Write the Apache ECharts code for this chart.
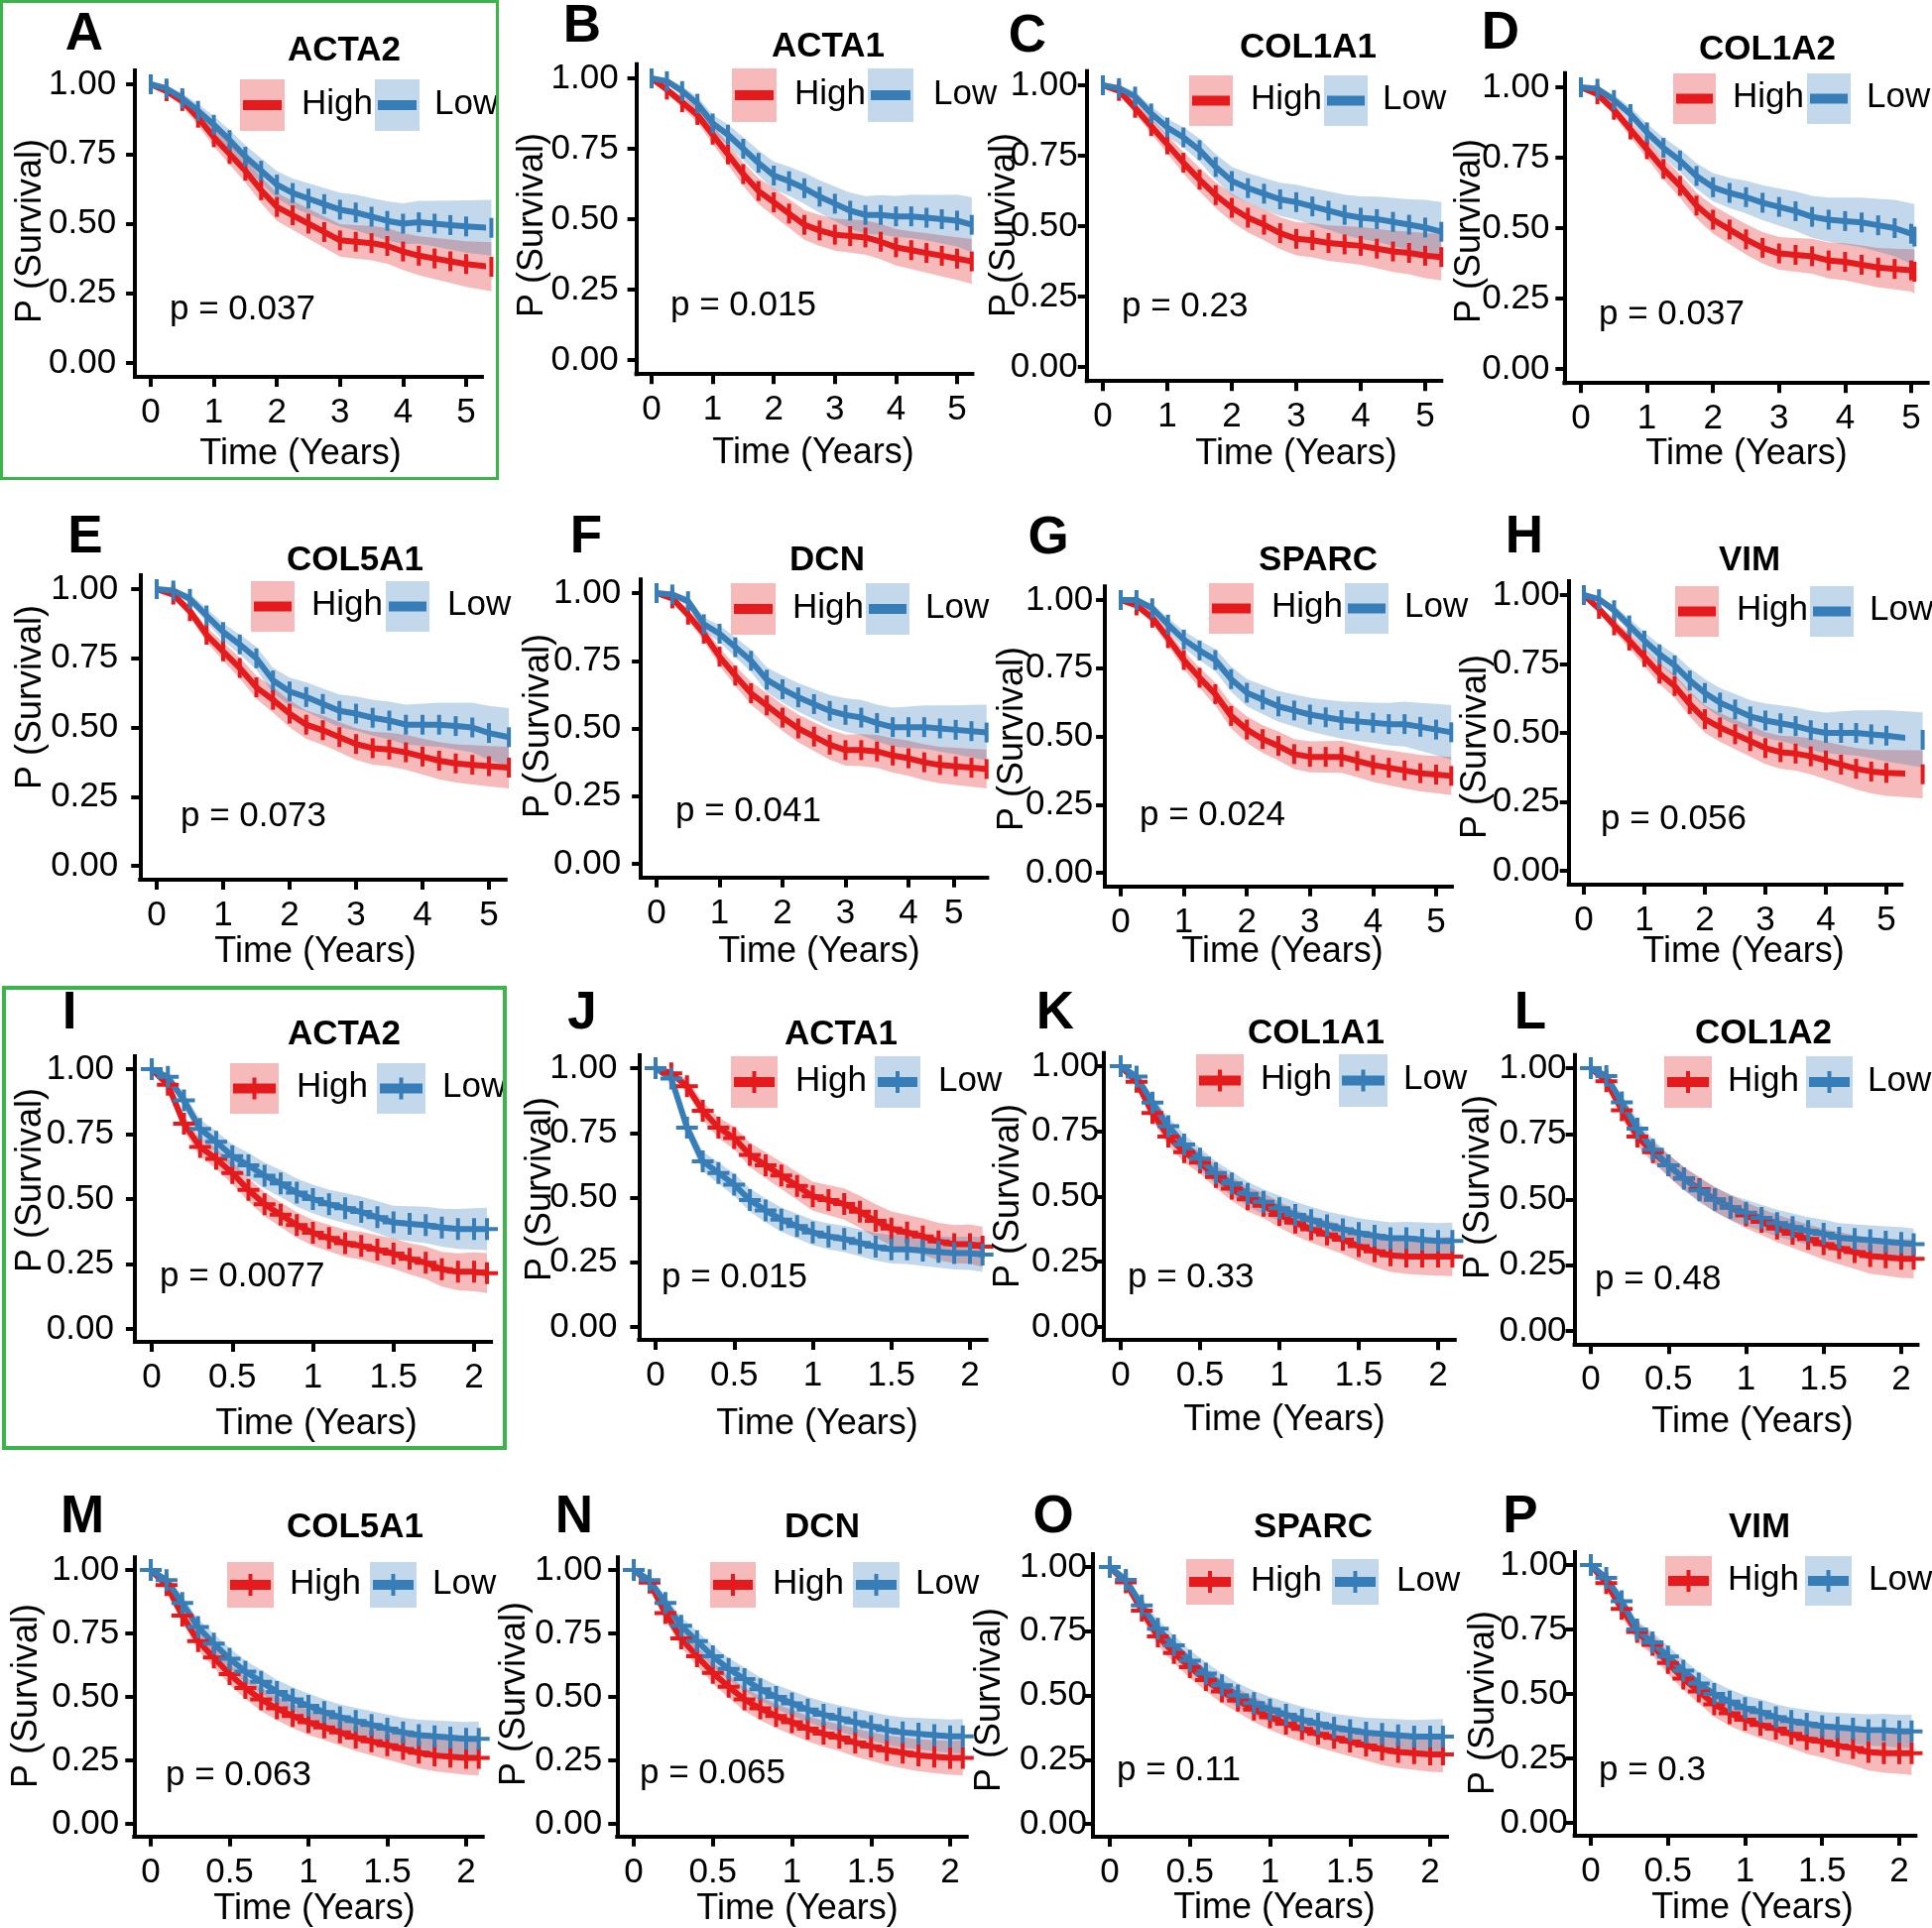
<!DOCTYPE html>
<html><head><meta charset="utf-8">
<script src="https://cdn.jsdelivr.net/npm/echarts@6/dist/echarts.min.js"></script>
<style>html,body{margin:0;padding:0;background:#fff}#c{width:1948px;height:1944px}</style>
</head><body><div id="c"></div>
<script>
// ---------------- DATA ----------------
const panelLetters = ['A','B','C','D','E','F','G','H','I','J','K','L','M','N','O','P'];
const geneNames = ['ACTA2','ACTA1','COL1A1','COL1A2','COL5A1','DCN','SPARC','VIM','ACTA2','ACTA1','COL1A1','COL1A2','COL5A1','DCN','SPARC','VIM'];
const pValues = ['0.037','0.015','0.23','0.037','0.073','0.041','0.024','0.056','0.0077','0.015','0.33','0.48','0.063','0.065','0.11','0.3'];
const groupNames = ['High','Low'];
const timesTop = [0,0.25,0.5,0.75,1,1.25,1.5,1.75,2,2.25,2.5,2.75,3,3.25,3.5,3.75,4,4.25,4.5,4.75,5];
const timesBottom = [0,0.1,0.2,0.3,0.4,0.5,0.6,0.7,0.8,0.9,1,1.1,1.2,1.3,1.4,1.5,1.6,1.7,1.8,1.9,2];
const endTime = [5.4,5.24,5.25,5.05,5.3,5.24,5.24,5.6,2.08,2.08,2.09,2.08,2.08,2.08,2.08,2.08];
const xTickTop = [0,1,2,3,4,5];
const xTickBottom = [0,0.5,1,1.5,2];
const xTickF = [0,1,2,3,4,4.72];
const xTickLabelF = ['0','1','2','3','4','5'];
const yTicks = [0,0.25,0.5,0.75,1];

// survival estimates (High / Low) and CI half-widths
const A_high = [1.00,0.975,0.94,0.88,0.81,0.75,0.69,0.62,0.56,0.53,0.50,0.47,0.44,0.435,0.43,0.42,0.40,0.385,0.375,0.365,0.355,0.345];
const A_low = [1.00,0.985,0.95,0.905,0.855,0.80,0.74,0.69,0.64,0.61,0.59,0.57,0.55,0.54,0.525,0.51,0.50,0.505,0.50,0.495,0.49,0.485];
const A_highCI = [0,.012,.02,.027,.033,.038,.042,.046,.05,.052,.054,.056,.058,.06,.062,.064,.066,.07,.074,.078,.082,.088];
const A_lowCI = [0,.01,.018,.025,.031,.036,.041,.045,.049,.052,.055,.058,.061,.064,.067,.07,.073,.077,.082,.088,.094,.10];

const B_high = [1.00,0.96,0.915,0.87,0.80,0.73,0.66,0.60,0.56,0.52,0.48,0.46,0.445,0.44,0.435,0.42,0.40,0.39,0.38,0.37,0.36,0.35];
const B_low = [1.00,0.99,0.955,0.91,0.84,0.80,0.75,0.70,0.655,0.635,0.61,0.58,0.555,0.53,0.515,0.515,0.51,0.51,0.505,0.50,0.495,0.48];
const B_highCI = [0,.012,.02,.027,.033,.038,.042,.046,.049,.051,.053,.055,.057,.059,.061,.063,.065,.067,.07,.073,.076,.08];
const B_lowCI = [0,.01,.018,.025,.031,.036,.041,.045,.049,.052,.055,.058,.061,.064,.067,.07,.073,.077,.081,.086,.092,.098];

const C_high = [1.00,0.98,0.92,0.855,0.79,0.725,0.665,0.61,0.565,0.53,0.505,0.475,0.455,0.45,0.44,0.435,0.43,0.42,0.41,0.405,0.395,0.39];
const C_low = [1.00,0.99,0.96,0.90,0.85,0.815,0.77,0.71,0.66,0.635,0.615,0.595,0.585,0.57,0.555,0.54,0.53,0.525,0.515,0.505,0.495,0.48];
const C_highCI = [0,.012,.02,.027,.033,.038,.042,.046,.05,.053,.055,.057,.059,.061,.063,.065,.067,.07,.073,.076,.08,.083];
const C_lowCI = [0,.01,.018,.025,.031,.036,.041,.046,.05,.053,.056,.059,.062,.065,.068,.072,.076,.08,.085,.09,.098,.105];

const D_high = [1.00,0.975,0.92,0.85,0.78,0.71,0.65,0.58,0.53,0.495,0.46,0.43,0.41,0.405,0.40,0.385,0.38,0.37,0.36,0.355,0.35,0.345];
const D_low = [1.00,0.995,0.955,0.905,0.84,0.785,0.74,0.685,0.645,0.625,0.61,0.59,0.575,0.56,0.54,0.53,0.525,0.52,0.51,0.50,0.48,0.47];
const D_highCI = [0,.012,.02,.027,.033,.038,.042,.046,.05,.052,.054,.056,.058,.06,.062,.064,.066,.068,.07,.072,.075,.078];
const D_lowCI = [0,.01,.018,.025,.031,.036,.041,.046,.05,.054,.058,.062,.066,.07,.074,.078,.083,.088,.094,.10,.108,.115];

const E_high = [1.00,0.98,0.92,0.835,0.775,0.715,0.645,0.60,0.55,0.51,0.49,0.465,0.44,0.425,0.42,0.41,0.395,0.38,0.37,0.365,0.36,0.355];
const E_low = [1.00,0.995,0.965,0.905,0.845,0.80,0.75,0.67,0.63,0.61,0.585,0.56,0.55,0.535,0.525,0.51,0.51,0.51,0.505,0.50,0.48,0.465];
const E_highCI = [0,.012,.02,.027,.033,.038,.042,.046,.049,.051,.053,.055,.057,.059,.061,.063,.065,.067,.069,.071,.073,.075];
const E_lowCI = [0,.01,.018,.025,.031,.036,.041,.046,.05,.053,.056,.059,.062,.065,.068,.072,.076,.08,.085,.09,.098,.105];

const F_high = [1.00,0.98,0.92,0.85,0.765,0.695,0.63,0.585,0.54,0.50,0.47,0.44,0.42,0.42,0.415,0.40,0.39,0.375,0.365,0.36,0.355,0.35];
const F_low = [1.00,0.995,0.97,0.885,0.85,0.80,0.75,0.68,0.645,0.615,0.59,0.565,0.55,0.54,0.52,0.505,0.505,0.505,0.50,0.495,0.49,0.485];
const F_highCI = [0,.012,.02,.027,.033,.038,.042,.046,.049,.051,.053,.055,.057,.059,.061,.063,.065,.066,.067,.069,.07,.072];
const F_lowCI = [0,.01,.018,.025,.031,.036,.041,.046,.05,.053,.056,.059,.062,.065,.068,.072,.076,.08,.085,.09,.097,.103];

const G_high = [1.00,0.98,0.935,0.86,0.78,0.715,0.655,0.575,0.525,0.49,0.465,0.435,0.425,0.425,0.425,0.41,0.395,0.385,0.375,0.365,0.36,0.355];
const G_low = [1.00,1.00,0.97,0.91,0.855,0.815,0.78,0.71,0.66,0.635,0.61,0.595,0.58,0.57,0.56,0.555,0.55,0.545,0.545,0.535,0.525,0.515];
const G_highCI = [0,.012,.02,.027,.033,.038,.042,.046,.049,.051,.053,.055,.057,.058,.059,.06,.062,.064,.066,.067,.068,.07];
const G_lowCI = [0,.01,.018,.025,.031,.036,.041,.046,.05,.053,.056,.059,.062,.065,.068,.071,.074,.078,.082,.088,.094,.10];

const H_high = [1.00,0.95,0.89,0.835,0.775,0.715,0.67,0.605,0.55,0.52,0.495,0.47,0.445,0.43,0.425,0.415,0.40,0.385,0.37,0.36,0.355,0.35];
const H_low = [1.00,0.985,0.945,0.89,0.835,0.785,0.745,0.69,0.645,0.61,0.585,0.56,0.545,0.535,0.525,0.51,0.50,0.50,0.50,0.495,0.49,0.475];
const H_highCI = [0,.012,.02,.027,.033,.038,.042,.046,.05,.052,.054,.056,.058,.06,.062,.065,.068,.071,.075,.079,.083,.087];
const H_lowCI = [0,.01,.018,.025,.031,.036,.041,.046,.05,.053,.056,.059,.062,.065,.068,.071,.074,.078,.082,.087,.093,.10];

const I_high = [1.00,0.94,0.79,0.70,0.655,0.60,0.535,0.48,0.44,0.40,0.37,0.35,0.33,0.32,0.305,0.29,0.27,0.255,0.23,0.22,0.22,0.215];
const I_low = [1.00,0.97,0.88,0.77,0.72,0.665,0.63,0.59,0.56,0.525,0.50,0.48,0.465,0.45,0.43,0.41,0.405,0.40,0.39,0.385,0.385,0.385];
const I_highCI = [0,.015,.03,.036,.04,.043,.045,.047,.048,.049,.05,.051,.052,.054,.056,.058,.06,.063,.067,.071,.075,.077];
const I_lowCI = [0,.012,.028,.036,.041,.045,.048,.05,.052,.054,.055,.056,.058,.06,.062,.064,.067,.07,.073,.077,.08,.082];

const J_high = [1.00,0.98,0.93,0.835,0.77,0.73,0.665,0.625,0.585,0.545,0.505,0.49,0.475,0.445,0.41,0.38,0.365,0.35,0.33,0.32,0.32,0.31];
const J_low = [1.00,0.96,0.77,0.64,0.595,0.55,0.49,0.45,0.415,0.39,0.365,0.35,0.34,0.325,0.31,0.30,0.30,0.295,0.29,0.285,0.285,0.28];
const J_highCI = [0,.012,.026,.035,.04,.044,.047,.05,.052,.054,.056,.058,.06,.062,.064,.066,.068,.07,.072,.074,.076,.078];
const J_lowCI = [0,.015,.032,.038,.041,.043,.045,.046,.047,.048,.049,.05,.051,.052,.053,.055,.057,.059,.061,.063,.065,.067];

const K_high = [1.00,0.94,0.82,0.73,0.67,0.63,0.575,0.53,0.49,0.465,0.43,0.40,0.375,0.355,0.335,0.31,0.29,0.275,0.27,0.27,0.27,0.27];
const K_low = [1.00,0.96,0.86,0.77,0.70,0.645,0.59,0.55,0.51,0.48,0.455,0.43,0.41,0.39,0.375,0.36,0.35,0.34,0.34,0.335,0.33,0.33];
const K_highCI = [0,.014,.028,.035,.039,.042,.044,.046,.047,.048,.049,.05,.052,.054,.056,.058,.061,.064,.067,.07,.073,.075];
const K_lowCI = [0,.012,.026,.034,.039,.042,.044,.046,.047,.048,.049,.05,.051,.053,.055,.057,.059,.061,.063,.066,.068,.07];

const L_high = [1.00,0.95,0.84,0.74,0.68,0.63,0.58,0.54,0.50,0.47,0.44,0.415,0.39,0.37,0.35,0.33,0.315,0.30,0.285,0.28,0.275,0.275];
const L_low = [1.00,0.97,0.87,0.77,0.69,0.63,0.58,0.535,0.50,0.47,0.45,0.43,0.41,0.395,0.38,0.37,0.355,0.35,0.345,0.34,0.335,0.33];
const L_highCI = [0,.014,.028,.035,.039,.042,.044,.046,.047,.048,.049,.05,.052,.054,.056,.058,.061,.064,.067,.07,.073,.075];
const L_lowCI = [0,.012,.026,.034,.039,.042,.044,.046,.047,.048,.049,.05,.051,.052,.053,.054,.055,.056,.057,.058,.06,.06];

const M_high = [1.00,0.94,0.82,0.72,0.655,0.59,0.535,0.49,0.455,0.425,0.40,0.38,0.36,0.34,0.325,0.31,0.295,0.28,0.27,0.265,0.26,0.26];
const M_low = [1.00,0.96,0.87,0.775,0.71,0.65,0.60,0.56,0.52,0.49,0.465,0.44,0.42,0.405,0.39,0.375,0.36,0.35,0.345,0.34,0.335,0.335];
const M_highCI = [0,.014,.028,.035,.039,.042,.044,.046,.047,.048,.049,.05,.051,.053,.055,.057,.059,.061,.063,.065,.067,.069];
const M_lowCI = [0,.012,.026,.034,.039,.042,.044,.046,.047,.048,.049,.05,.051,.052,.054,.056,.058,.06,.062,.064,.066,.068];

const N_high = [1.00,0.95,0.83,0.73,0.66,0.595,0.54,0.49,0.455,0.425,0.40,0.375,0.355,0.34,0.32,0.305,0.29,0.28,0.27,0.265,0.26,0.26];
const N_low = [1.00,0.96,0.87,0.78,0.72,0.66,0.61,0.57,0.53,0.50,0.475,0.45,0.43,0.415,0.40,0.385,0.37,0.36,0.355,0.35,0.345,0.345];
const N_highCI = [0,.014,.028,.035,.039,.042,.044,.046,.047,.048,.049,.05,.051,.053,.055,.057,.059,.061,.063,.065,.067,.069];
const N_lowCI = [0,.012,.026,.034,.039,.042,.044,.046,.047,.048,.049,.05,.051,.052,.054,.056,.058,.06,.062,.064,.066,.068];

const O_high = [1.00,0.94,0.83,0.73,0.665,0.61,0.56,0.515,0.48,0.445,0.415,0.39,0.37,0.35,0.335,0.32,0.305,0.29,0.28,0.275,0.27,0.27];
const O_low = [1.00,0.95,0.85,0.76,0.695,0.635,0.585,0.54,0.50,0.47,0.445,0.425,0.405,0.39,0.375,0.365,0.355,0.35,0.345,0.34,0.34,0.34];
const O_highCI = [0,.014,.028,.035,.039,.042,.044,.046,.047,.048,.049,.05,.051,.053,.055,.057,.059,.061,.063,.065,.067,.069];
const O_lowCI = [0,.012,.026,.034,.039,.042,.044,.046,.047,.048,.049,.05,.051,.052,.054,.056,.058,.06,.062,.064,.066,.068];

const P_high = [1.00,0.93,0.83,0.74,0.69,0.62,0.56,0.51,0.46,0.425,0.40,0.38,0.365,0.345,0.325,0.315,0.30,0.29,0.275,0.27,0.27,0.27];
const P_low = [1.00,0.95,0.86,0.75,0.70,0.645,0.59,0.54,0.50,0.47,0.445,0.43,0.41,0.395,0.385,0.375,0.37,0.365,0.36,0.36,0.355,0.355];
const P_highCI = [0,.016,.03,.037,.04,.043,.045,.047,.048,.049,.05,.052,.054,.056,.058,.061,.064,.068,.072,.076,.08,.084];
const P_lowCI = [0,.012,.026,.034,.039,.042,.044,.046,.047,.048,.049,.05,.051,.052,.053,.055,.057,.059,.061,.063,.064,.065];

// ---------------- LAYOUT (pixels) ----------------
// [x of t=0, x of last tick (5 or 2 years), y of 1.00, y of 0.00]
const plotFrames = [
 [152,470,85,366],[657,965,79,363],[1112,1437,86,370],[1594,1927,88,372],
 [158,493,594,873],[662,979.5,598,871],[1130,1448,605,880],[1597,1902,600,878],
 [153,478,1078,1340],[661,978,1077,1338],[1130,1450,1075,1338],[1604,1917,1077,1342],
 [152,470,1583,1839],[639,958,1583,1839],[1119,1442,1580,1839],[1604,1915,1578,1838]];
const yLabelMargin = [19,18,9,15,22,20,12,9,21,22,5,8,15,15,6,7];
const letterPos = [[85,35],[587,27],[1036,37],[1513,34],[86,542],[591,542],[1057,543],[1537,542],[70,1022],[587,1022],[1064,1022],[1543,1022],[83,1530],[579,1530],[1062,1530],[1533,1530]];
const titlePos = [[347,51],[835,47],[1319,48],[1782,50],[358,565],[834,565],[1329,565],[1764,565],[347,1043],[848,1043],[1327,1042],[1778,1042],[358,1540],[829,1540],[1324,1540],[1774,1540]];
const pPos = [[171,312],[676,308],[1131,309],[1612,317],[182,823],[681,818],[1149,822],[1614,826],[161,1287],[667,1288],[1137,1288],[1608,1290],[167,1790],[645,1788],[1126,1785],[1612,1785]];
const yLabPos = [[31,233],[537,227],[1013,227],[1482,233],[31,703],[543,732],[1021,745],[1488,753],[31,1190],[545,1199],[1017,1206],[1491,1197],[27,1710],[519,1708],[998,1714],[1496,1717]];
const xLabPos = [[303,458],[820,457],[1307,458],[1761,458],[318,960],[826,960],[1293,960],[1758,960],[319,1436],[824,1436],[1295,1432],[1767,1434],[317,1925],[804,1925],[1285,1924],[1767,1924]];
// [redX1, redX2, top, bottom, highTextX, blueX1, blueX2, lowTextX]
const legendPos = [
 [242,287,80,132,304,378,423,438],[738,783,69,123,801,875,921,941],[1199,1243,76,127,1261,1335,1379,1394],[1687,1730,74,125,1747,1822,1866,1882],
 [253,297,586,637,314,389,433,451],[737,782,588,640,799,873,917,933],[1219,1264,588,639,1282,1356,1400,1416],[1689,1733,591,642,1751,1825,1869,1885],
 [232,281,1072,1123,299,380,429,446],[737,784,1065,1117,802,882,928,946],[1206,1254,1063,1116,1271,1350,1399,1415],[1678,1726,1065,1117,1742,1821,1868,1883],
 [229,276,1575,1621,292,373,420,436],[716,762,1575,1621,779,860,907,923],[1196,1244,1572,1618,1261,1343,1390,1408],[1679,1726,1569,1619,1742,1820,1867,1884]];

// ---------------- BUILD ----------------
const FONT = '"Liberation Sans", Arial, Helvetica, sans-serif';
const RED = '#E41A1C', BLUE = '#377EB8';
const RED_BAND = 'rgba(228,26,28,0.3)', BLUE_BAND = 'rgba(55,126,184,0.3)';
const curves = {
 A:[A_high,A_low,A_highCI,A_lowCI], B:[B_high,B_low,B_highCI,B_lowCI], C:[C_high,C_low,C_highCI,C_lowCI], D:[D_high,D_low,D_highCI,D_lowCI],
 E:[E_high,E_low,E_highCI,E_lowCI], F:[F_high,F_low,F_highCI,F_lowCI], G:[G_high,G_low,G_highCI,G_lowCI], H:[H_high,H_low,H_highCI,H_lowCI],
 I:[I_high,I_low,I_highCI,I_lowCI], J:[J_high,J_low,J_highCI,J_lowCI], K:[K_high,K_low,K_highCI,K_lowCI], L:[L_high,L_low,L_highCI,L_lowCI],
 M:[M_high,M_low,M_highCI,M_lowCI], N:[N_high,N_low,N_highCI,N_lowCI], O:[O_high,O_low,O_highCI,O_lowCI], P:[P_high,P_low,P_highCI,P_lowCI]};

const TICK_SYM = 'path://M0,0H1V10H0Z';
const PLUS_SYM = 'path://M9,0H13V22H9ZM0,9H22V13H0Z';

const grids = [], xAxes = [], yAxes = [], series = [], graphics = [];

panelLetters.forEach((L, i) => {
  const top = i < 8;
  const [x0, xe, y1, y0] = plotFrames[i];
  const tSpan = top ? 5 : 2;
  const ppu = (xe - x0) / tSpan;
  const xmin = top ? -0.25 : -0.105, xmax = top ? 5.25 : 2.105;
  const ph = y0 - y1;
  grids.push({left: x0 + xmin * ppu, width: (xmax - xmin) * ppu, top: y1 - 0.05 * ph, height: 1.1 * ph,
    containLabel: false, outerBoundsMode: 'none'});
  const xt = L === 'F' ? xTickF : (top ? xTickTop : xTickBottom);
  xAxes.push({type: 'value', gridIndex: i, min: xmin, max: xmax,
    axisLine: {show: true, onZero: false, lineStyle: {color: '#000', width: 4, cap: 'square'}},
    axisTick: {show: true, inside: false, length: 10, lineStyle: {color: '#000', width: 4}, customValues: xt},
    axisLabel: {show: true, margin: 19, fontSize: 35, color: '#000', fontFamily: FONT, customValues: xt, hideOverlap: false,
      formatter: (v) => L === 'F' ? xTickLabelF[xTickF.indexOf(v)] : String(v)},
    splitLine: {show: false}});
  yAxes.push({type: 'value', gridIndex: i, min: -0.05, max: 1.05,
    axisLine: {show: true, onZero: false, lineStyle: {color: '#000', width: 4, cap: 'square'}},
    axisTick: {show: true, inside: false, length: 9, lineStyle: {color: '#000', width: 4}, customValues: yTicks},
    axisLabel: {show: true, margin: yLabelMargin[i], fontSize: 35, color: '#000', fontFamily: FONT, customValues: yTicks, hideOverlap: false,
      padding: [6, 0, 0, 0], formatter: (v) => v.toFixed(2)},
    splitLine: {show: false}});

  const times = (top ? timesTop : timesBottom).concat([endTime[i]]);
  const [hi, lo, hiCI, loCI] = curves[L];
  const groups = [[hi, hiCI, RED, RED_BAND, groupNames[0]], [lo, loCI, BLUE, BLUE_BAND, groupNames[1]]];
  // confidence bands
  groups.forEach(([v, w, col, band, name]) => {
    const lower = v.map((s, k) => Math.max(0, s - w[k]));
    const upper = v.map((s, k) => Math.min(1, s + w[k]));
    series.push({type: 'custom', name: name + ' CI', xAxisIndex: i, yAxisIndex: i, z: 1, silent: true,
      data: times.map((t, k) => [t, lower[k], upper[k]]),
      encode: {x: 0, y: [1, 2]},
      renderItem: (params, api) => {
        if (params.dataIndex !== 0) return null;
        const pts = [];
        for (let k = 0; k < times.length; k++) pts.push(api.coord([times[k], upper[k]]));
        for (let k = times.length - 1; k >= 0; k--) pts.push(api.coord([times[k], lower[k]]));
        return {type: 'polygon', shape: {points: pts}, style: {fill: band}};
      }});
  });
  // survival curves
  groups.forEach(([v, w, col, band, name]) => {
    series.push({type: 'line', name: name, xAxisIndex: i, yAxisIndex: i, z: 3, clip: false, silent: true,
      data: times.map((t, k) => [t, v[k]]),
      lineStyle: {color: col, width: 6}, itemStyle: {color: col, borderWidth: 0},
      symbol: top ? TICK_SYM : PLUS_SYM, symbolSize: top ? [4, 20] : [22, 22], symbolKeepAspect: false,
      showSymbol: true, showAllSymbol: true, animation: false});
  });

  // texts
  graphics.push({type: 'text', x: letterPos[i][0], y: letterPos[i][1], z: 10,
    style: {text: L, fontSize: 53, fontWeight: 'bold', fontFamily: FONT, fill: '#000', align: 'center', verticalAlign: 'middle'}});
  graphics.push({type: 'text', x: titlePos[i][0], y: titlePos[i][1], z: 10,
    style: {text: geneNames[i], fontSize: 35, fontWeight: 'bold', fontFamily: FONT, fill: '#000', align: 'center', verticalAlign: 'middle'}});
  graphics.push({type: 'text', x: pPos[i][0], y: pPos[i][1], z: 10,
    style: {text: 'p = ' + pValues[i], fontSize: 35, fontFamily: FONT, fill: '#000', align: 'left', verticalAlign: 'middle'}});
  graphics.push({type: 'text', x: yLabPos[i][0], y: yLabPos[i][1], rotation: Math.PI / 2, z: 10,
    style: {text: 'P (Survival)', fontSize: 36, fontFamily: FONT, fill: '#000', align: 'center', verticalAlign: 'middle'}});
  graphics.push({type: 'text', x: xLabPos[i][0], y: xLabPos[i][1], z: 10,
    style: {text: 'Time (Years)', fontSize: 36, fontFamily: FONT, fill: '#000', align: 'center', verticalAlign: 'middle'}});
  // legend
  const [rx1, rx2, lt, lb, hx, bx1, bx2, lx] = legendPos[i];
  const my = (lt + lb) / 2;
  [[rx1, rx2, RED, RED_BAND, hx, groupNames[0]], [bx1, bx2, BLUE, BLUE_BAND, lx, groupNames[1]]].forEach(([a, b, col, band, tx, name]) => {
    graphics.push({type: 'rect', z: 10, shape: {x: a, y: lt, width: b - a, height: lb - lt}, style: {fill: band}});
    graphics.push({type: 'line', z: 11, shape: {x1: a + 3, y1: my, x2: b - 3, y2: my}, style: {stroke: col, lineWidth: 10}});
    if (!top) graphics.push({type: 'line', z: 11, shape: {x1: (a + b) / 2, y1: my - 11, x2: (a + b) / 2, y2: my + 11}, style: {stroke: col, lineWidth: 4}});
    graphics.push({type: 'text', x: tx, y: my - 1, z: 10,
      style: {text: name, fontSize: 35, fontFamily: FONT, fill: '#000', align: 'left', verticalAlign: 'middle'}});
  });
});

// green highlight frames
graphics.push({type: 'rect', z: 20, shape: {x: 1.5, y: 1.5, width: 500, height: 481}, style: {fill: 'none', stroke: '#3BB44A', lineWidth: 3}});
graphics.push({type: 'rect', z: 20, shape: {x: 4, y: 996, width: 505, height: 464}, style: {fill: 'none', stroke: '#3BB44A', lineWidth: 4}});

const chart = echarts.init(document.getElementById('c'), null, {renderer: 'canvas', width: 1948, height: 1944});
chart.setOption({
  animation: false,
  backgroundColor: '#ffffff',
  textStyle: {fontFamily: FONT},
  grid: grids, xAxis: xAxes, yAxis: yAxes, series: series, graphic: graphics
});
</script>
</body></html>
